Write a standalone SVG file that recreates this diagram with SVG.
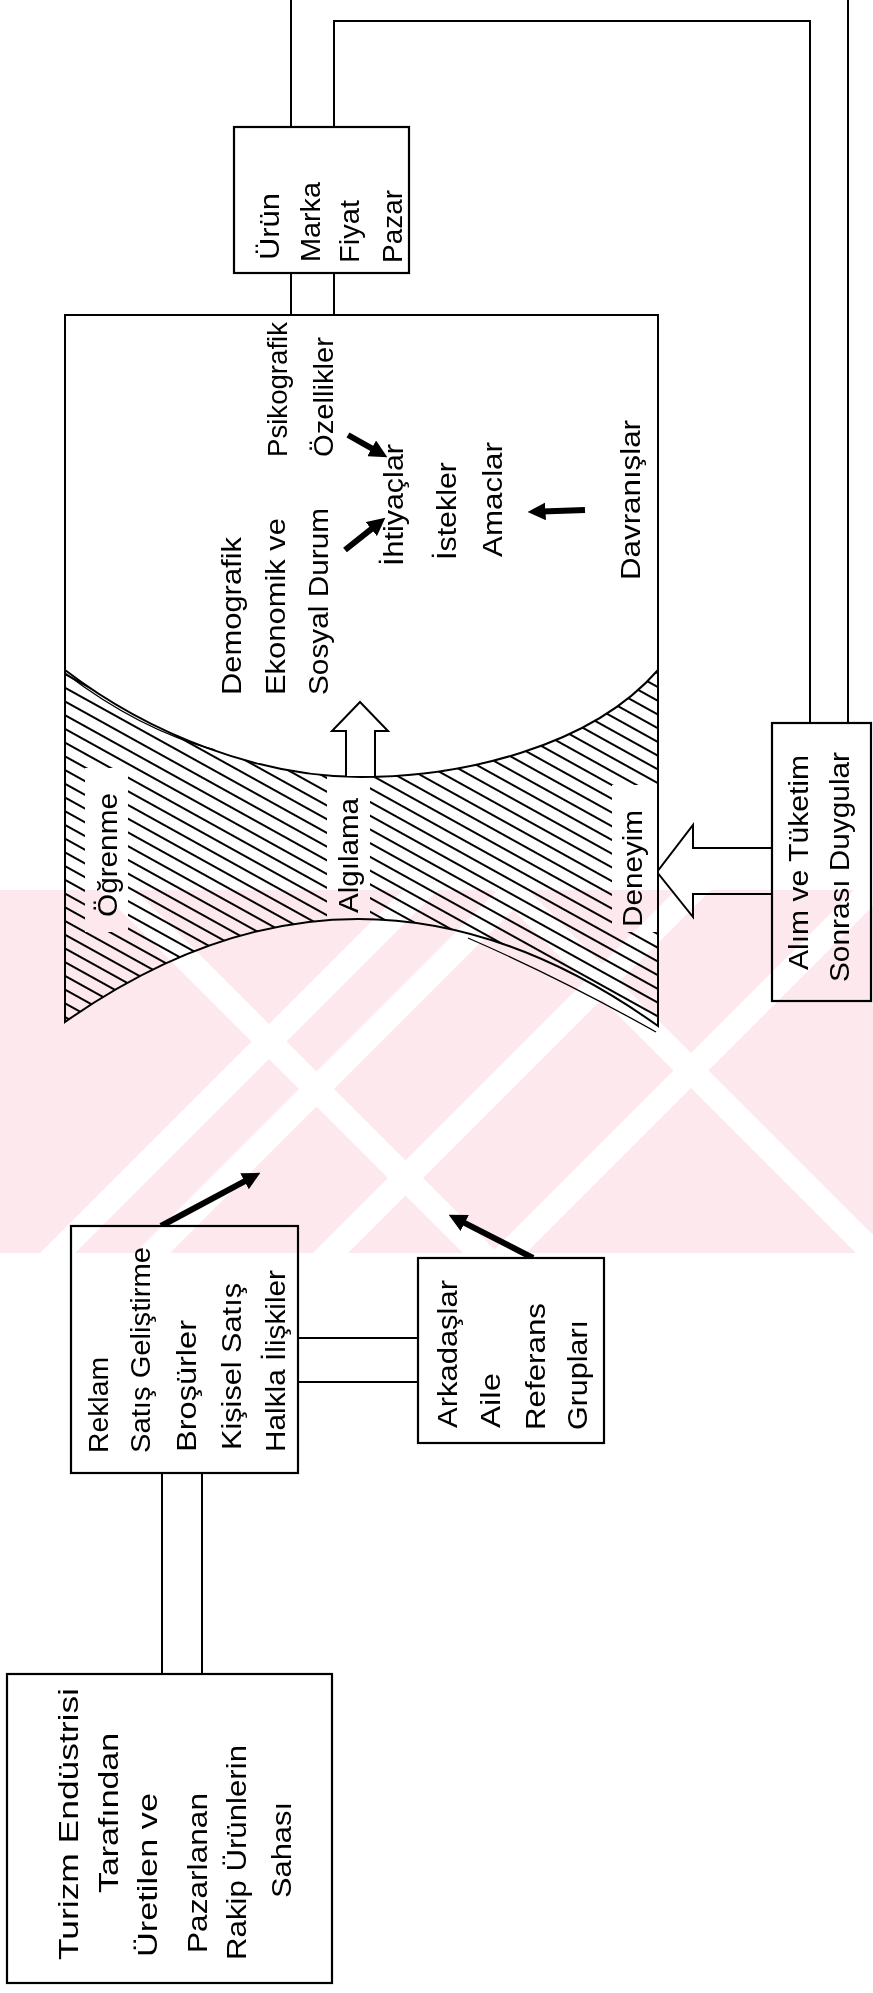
<svg xmlns="http://www.w3.org/2000/svg" width="873" height="1993" viewBox="0 0 873 1993">
  <style>
    .t { font-family: "Liberation Sans", "DejaVu Sans", sans-serif; font-size: 27px; fill: #000; }
    .box { fill: #fff; stroke: #000; stroke-width: 2.2; }
    .ln { fill: none; stroke: #000; stroke-width: 2; }
    .thin { fill: none; stroke: #000; stroke-width: 1.3; }
    .thick { fill: none; stroke: #000; stroke-width: 6; marker-end: url(#head); }
    .hollow { fill: #fff; stroke: #000; stroke-width: 2; }
    .wm { fill: #fde9ed; }
    .wmgap { fill: #fff; }
  </style>
  <defs>
    <marker id="head" viewBox="0 0 10 10" refX="2" refY="5" markerWidth="3" markerHeight="3" orient="auto" markerUnits="strokeWidth">
      <path d="M0,0 L10,5 L0,10 z" fill="#000"/>
    </marker>
    <pattern id="hatch" patternUnits="userSpaceOnUse" width="40" height="12" patternTransform="rotate(29)">
      <line x1="0" y1="6" x2="40" y2="6" stroke="#000" stroke-width="1.8"/>
    </pattern>
    <clipPath id="bandClip">
      <path d="M65,670 C150,735 260,777 361,777 C460,777 590,748 658,670 L658,1026 Q361,814 65,1022 Z"/>
    </clipPath>
    <clipPath id="wmClip">
      <rect x="0" y="890" width="873" height="363"/>
    </clipPath>
  </defs>

  <rect width="873" height="1993" fill="#fff"/>

  <!-- connector lines -->
  <g id="connectors">
    <path class="ln" d="M291,0 V127 M291,273 V315"/>
    <path class="ln" d="M334,315 V273 M334,127 V21 H810 V723"/>
    <path class="ln" d="M848,0 V723"/>
    <path class="ln" d="M162,1473 V1674 M202,1473 V1674"/>
    <path class="ln" d="M298,1338 H418 M298,1382 H418"/>
    <path class="thick" d="M161,1226 L247.7,1179.6"/>
    <path class="thick" d="M533,1258 L461.5,1221.4"/>
    <path class="hollow" d="M772,848 H693 V825 L657,872 L693,917 V894 H772"/>
  </g>

  <!-- consumer: outline, hatched band and inner labels -->
  <g id="consumer">
    <path d="M65,315 H658 V1026 Q361,814 65,1022 Z" fill="#fff"/>
    <g clip-path="url(#bandClip)">
      <rect x="60" y="660" width="605" height="370" fill="url(#hatch)"/>
      <rect x="85" y="768" width="43" height="164" fill="#fff"/>
      <rect x="327" y="760" width="43" height="170" fill="#fff"/>
      <rect x="612" y="785" width="50" height="147" fill="#fff"/>
    </g>
    <path class="ln" d="M65,670 C150,735 260,777 361,777 C460,777 590,748 658,670"/>
    <path class="thin" d="M65,673 C120,715 170,738 215,750"/>
    <path class="thin" d="M468,938 Q560,978 656,1032"/>
    <path class="ln" d="M65,315 H658 V1026 Q361,814 65,1022 Z"/>
    <path class="hollow" d="M346,776 V731 H332 L360,702 L388,731 H375 V776"/>

    <text class="t" transform="translate(117,917) rotate(-90)" textLength="124" lengthAdjust="spacingAndGlyphs">Öğrenme</text>
    <text class="t" transform="translate(358,913) rotate(-90)" textLength="115" lengthAdjust="spacingAndGlyphs">Algılama</text>
    <text class="t" transform="translate(642,927) rotate(-90)" textLength="117" lengthAdjust="spacingAndGlyphs">Deneyim</text>

    <text class="t" transform="translate(241,695) rotate(-90)" textLength="158" lengthAdjust="spacingAndGlyphs">Demografik</text>
    <text class="t" transform="translate(285,695) rotate(-90)" textLength="177" lengthAdjust="spacingAndGlyphs">Ekonomik ve</text>
    <text class="t" transform="translate(328,695) rotate(-90)" textLength="187" lengthAdjust="spacingAndGlyphs">Sosyal Durum</text>
    <text class="t" transform="translate(287,457) rotate(-90)" textLength="135" lengthAdjust="spacingAndGlyphs">Psikografik</text>
    <text class="t" transform="translate(333,457) rotate(-90)" textLength="120" lengthAdjust="spacingAndGlyphs">Özellikler</text>
    <text class="t" transform="translate(403,566) rotate(-90)" textLength="122" lengthAdjust="spacingAndGlyphs">İhtiyaçlar</text>
    <text class="t" transform="translate(456,560) rotate(-90)" textLength="98" lengthAdjust="spacingAndGlyphs">İstekler</text>
    <text class="t" transform="translate(502,557) rotate(-90)" textLength="115" lengthAdjust="spacingAndGlyphs">Amaclar</text>
    <text class="t" transform="translate(640,580) rotate(-90)" textLength="160" lengthAdjust="spacingAndGlyphs">Davranışlar</text>

    <path class="thick" d="M348,435 L374.8,450.1"/>
    <path class="thick" d="M345,550 L374.1,526.8"/>
    <path class="thick" d="M585,510 L542,511.5"/>
  </g>

  <g id="node-urun">
    <rect class="box" x="234" y="127" width="175" height="146"/>
    <text class="t" transform="translate(279,260) rotate(-90)" textLength="67" lengthAdjust="spacingAndGlyphs">Ürün</text>
    <text class="t" transform="translate(320,262) rotate(-90)" textLength="80" lengthAdjust="spacingAndGlyphs">Marka</text>
    <text class="t" transform="translate(359,263) rotate(-90)" textLength="63" lengthAdjust="spacingAndGlyphs">Fiyat</text>
    <text class="t" transform="translate(402,263) rotate(-90)" textLength="73" lengthAdjust="spacingAndGlyphs">Pazar</text>
  </g>

  <g id="node-alim">
    <rect class="box" x="772" y="723" width="99" height="278"/>
    <text class="t" transform="translate(808,970) rotate(-90)" textLength="215" lengthAdjust="spacingAndGlyphs">Alım ve Tüketim</text>
    <text class="t" transform="translate(849,982) rotate(-90)" textLength="230" lengthAdjust="spacingAndGlyphs">Sonrası Duygular</text>
  </g>

  <g id="node-reklam">
    <rect class="box" x="71" y="1226" width="227" height="247"/>
    <text class="t" transform="translate(108,1453) rotate(-90)" textLength="96" lengthAdjust="spacingAndGlyphs">Reklam</text>
    <text class="t" transform="translate(150,1453) rotate(-90)" textLength="206" lengthAdjust="spacingAndGlyphs">Satış Geliştirme</text>
    <text class="t" transform="translate(196,1452) rotate(-90)" textLength="132" lengthAdjust="spacingAndGlyphs">Broşürler</text>
    <text class="t" transform="translate(241,1450) rotate(-90)" textLength="167" lengthAdjust="spacingAndGlyphs">Kişisel Satış</text>
    <text class="t" transform="translate(285,1452) rotate(-90)" textLength="182" lengthAdjust="spacingAndGlyphs">Halkla İlişkiler</text>
  </g>

  <g id="node-arkadaslar">
    <rect class="box" x="418" y="1258" width="186" height="185"/>
    <text class="t" transform="translate(457,1428) rotate(-90)" textLength="148" lengthAdjust="spacingAndGlyphs">Arkadaşlar</text>
    <text class="t" transform="translate(500,1428) rotate(-90)" textLength="55" lengthAdjust="spacingAndGlyphs">Aile</text>
    <text class="t" transform="translate(545,1430) rotate(-90)" textLength="127" lengthAdjust="spacingAndGlyphs">Referans</text>
    <text class="t" transform="translate(587,1430) rotate(-90)" textLength="110" lengthAdjust="spacingAndGlyphs">Grupları</text>
  </g>

  <g id="node-turizm">
    <rect class="box" x="7" y="1674" width="325" height="309"/>
    <text class="t" transform="translate(78,1960) rotate(-90)" textLength="272" lengthAdjust="spacingAndGlyphs">Turizm  Endüstrisi</text>
    <text class="t" transform="translate(118,1893) rotate(-90)" textLength="160" lengthAdjust="spacingAndGlyphs">Tarafından</text>
    <text class="t" transform="translate(157,1957) rotate(-90)" textLength="164" lengthAdjust="spacingAndGlyphs">Üretilen ve</text>
    <text class="t" transform="translate(207,1953) rotate(-90)" textLength="160" lengthAdjust="spacingAndGlyphs">Pazarlanan</text>
    <text class="t" transform="translate(246,1960) rotate(-90)" textLength="215" lengthAdjust="spacingAndGlyphs">Rakip Ürünlerin</text>
    <text class="t" transform="translate(291,1898) rotate(-90)" textLength="96" lengthAdjust="spacingAndGlyphs">Sahası</text>
  </g>

  <!-- pale stamp printed over the page, multiplied so ink stays black -->
  <g id="stamp" clip-path="url(#wmClip)" style="mix-blend-mode:multiply">
    <rect class="wm" x="0" y="890" width="873" height="363"/>
    <polygon class="wmgap" points="1293,0 1328,0 0,1328 0,1293"/>
    <polygon class="wmgap" points="1388,0 1423,0 0,1423 0,1388"/>
    <polygon class="wmgap" points="1566,0 1601,0 0,1601 0,1566"/>
    <polygon class="wmgap" points="1744,0 1779,0 0,1779 0,1744"/>
    <polygon class="wmgap" points="0,755 0,790 1300,2090 1300,2055"/>
    <polygon class="wmgap" points="0,362 0,397 1300,1697 1300,1662"/>
  </g>
</svg>
